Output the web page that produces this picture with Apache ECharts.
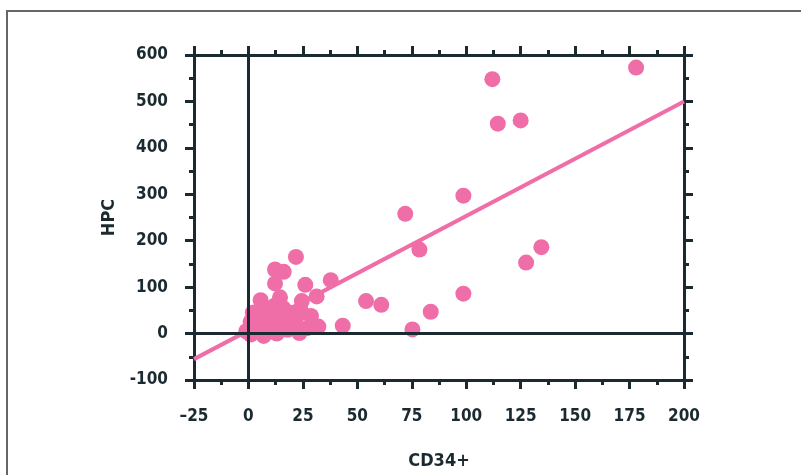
<!DOCTYPE html>
<html>
<head>
<meta charset="utf-8">
<script src="https://cdn.jsdelivr.net/npm/echarts@6/dist/echarts.min.js"></script>
<style>
  html, body { margin: 0; padding: 0; background: #fff; }
  #chart { width: 801px; height: 475px; }
</style>
</head>
<body>
<div id="chart"></div>
<script>
// CD34+ cell counts against HPC, one entry per sample
const cd34 = [
  178, 112, 114.5, 125, 98.7, 72, 78.5, 134.5, 127.5, 98.7, 83.7, 75.3, 61, 54,
  43.3, 37.8, 31.3, 32.1, 26.1, 21.8, 24.5, 28.7, 23.4,
  12.2, 16.2, 12.2, 5.6, 14.5,
  -1, 1, 1, 2, 4, 5, 6, 7, 8, 9, 10, 11, 12, 13, 14, 15, 16, 17, 18, 19, 21, 22, 24, 27
];
const hpc = [
  573, 548, 452, 459, 297, 258, 181, 186, 153, 86, 47, 9, 62, 70,
  17, 115, 80, 15, 105, 165, 70, 38, 1,
  138, 133, 108, 72, 78,
  5, -2, 25, 45, 12, 35, 58, -5, 20, 45, 5, 30, 60, 0, 40, 15, 55, 25, 8, 45, 20, 35, 50, 12
];

// Fitted regression line, evaluated at the ends of the x range
const fitX = [-25, 200];
const fitY = [-55, 500];

const xTicks = { min: -25, max: 200, step: 25 };
const yTicks = { min: -100, max: 600, step: 100 };

const ink = '#1b2a30';
const pink = '#f06ea8';
const labelFont = '"DejaVu Sans Condensed", "DejaVu Sans", sans-serif';

const points = cd34.map((x, i) => [x, hpc[i]]);
const fitLine = fitX.map((x, i) => [x, fitY[i]]);

function frameAxis(extra) {
  return Object.assign({
    type: 'value',
    axisLine: { show: true, onZero: false, lineStyle: { color: ink, width: 3 } },
    axisTick: { show: true, inside: false, length: 9, lineStyle: { color: ink, width: 3 } },
    minorTick: { show: true, splitNumber: 2, length: 5, lineStyle: { color: ink, width: 3 } },
    splitLine: { show: false },
    axisLabel: { show: false }
  }, extra);
}

const chart = echarts.init(document.getElementById('chart'), null, { renderer: 'canvas' });
chart.setOption({
  animation: false,
  backgroundColor: '#fff',
  grid: { left: 194, right: 117, top: 55, bottom: 94 },
  graphic: [{
    type: 'polyline',
    shape: { points: [[7, 475], [7, 11], [801, 11]] },
    style: { stroke: '#666', lineWidth: 2, fill: null },
    silent: true
  }],
  xAxis: [
    frameAxis({
      position: 'bottom',
      min: xTicks.min, max: xTicks.max, interval: xTicks.step,
      name: 'CD34+',
      nameLocation: 'middle',
      nameGap: 72,
      nameTextStyle: { fontFamily: labelFont, fontWeight: 'bold', fontSize: 18, color: ink },
      axisLabel: {
        show: true, margin: 28, fontFamily: labelFont, fontWeight: 'bold', fontSize: 17, color: ink,
        formatter: v => String(v).replace('-', '\u2013')
      }
    }),
    frameAxis({ position: 'top', min: xTicks.min, max: xTicks.max, interval: xTicks.step })
  ],
  yAxis: [
    frameAxis({
      position: 'left',
      min: yTicks.min, max: yTicks.max, interval: yTicks.step,
      name: 'HPC',
      nameLocation: 'middle',
      nameGap: 75,
      nameRotate: 90,
      nameTextStyle: { fontFamily: labelFont, fontWeight: 'bold', fontSize: 18, color: ink },
      axisLabel: { show: true, margin: 26, fontFamily: labelFont, fontWeight: 'bold', fontSize: 17, color: ink }
    }),
    frameAxis({ position: 'right', min: yTicks.min, max: yTicks.max, interval: yTicks.step })
  ],
  series: [
    {
      type: 'line',
      data: fitLine,
      symbol: 'none',
      lineStyle: { color: pink, width: 4 },
      z: 2,
      markLine: {
        silent: true,
        symbol: 'none',
        label: { show: false },
        lineStyle: { color: ink, width: 3, type: 'solid' },
        data: [{ xAxis: 0 }, { yAxis: 0 }]
      }
    },
    {
      type: 'scatter',
      data: points,
      symbol: 'circle',
      symbolSize: 16,
      itemStyle: { color: pink, opacity: 1 },
      z: 3
    }
  ]
});
</script>
</body>
</html>
